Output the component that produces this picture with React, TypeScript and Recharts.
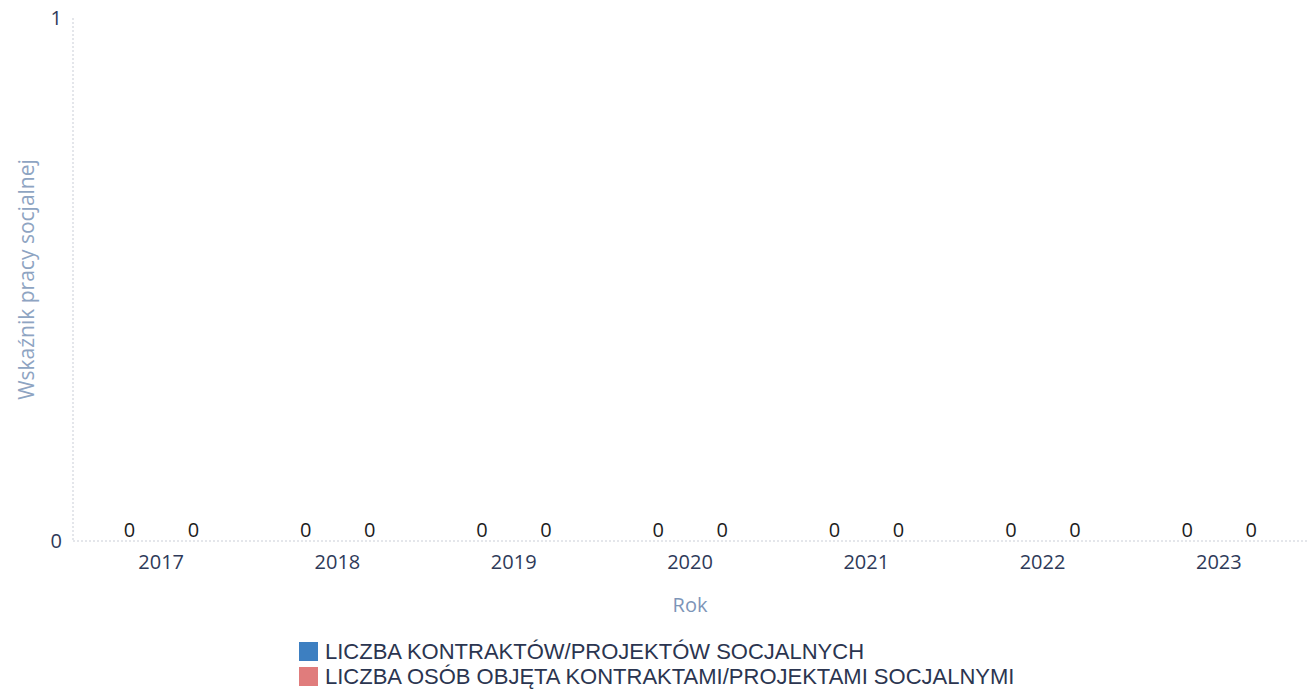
import { BarChart, Bar, XAxis, YAxis, LabelList } from "recharts";

const years = ["2017", "2018", "2019", "2020", "2021", "2022", "2023"];
const kontrakty = [0, 0, 0, 0, 0, 0, 0];
const osoby = [0, 0, 0, 0, 0, 0, 0];
const yTicks = [0, 1];

const seriesNames = [
  "LICZBA KONTRAKTÓW/PROJEKTÓW SOCJALNYCH",
  "LICZBA OSÓB OBJĘTA KONTRAKTAMI/PROJEKTAMI SOCJALNYMI",
];
const seriesColors = ["#3d7fc1", "#e07c7c"];

const data = years.map((rok, i) => ({
  rok,
  kontrakty: kontrakty[i],
  osoby: osoby[i],
}));

const font = "Open Sans, sans-serif";

function YLabel({ viewBox }: any) {
  const cx = 26;
  const cy = viewBox.y + viewBox.height / 2;
  return (
    <text
      x={cx}
      y={cy}
      transform={`rotate(-90 ${cx} ${cy})`}
      textAnchor="middle"
      dominantBaseline="central"
      fill="#8ea4c2"
      fontSize={21}
      fontFamily={font}
    >
      Wskaźnik pracy socjalnej
    </text>
  );
}

export default function App() {
  return (
    <div style={{ position: "absolute", left: 0, top: 0, width: 1307, height: 690, background: "#fff" }}>
      <BarChart
        width={1307}
        height={690}
        data={data}
        margin={{ top: 18, right: 0, left: 0, bottom: 0 }}
        barCategoryGap="15%"
        barGap={4}
      >
        <XAxis
          dataKey="rok"
          height={149}
          tickLine={false}
          axisLine={{ stroke: "#c9cdd6", strokeDasharray: "2 2" }}
          tick={{ fill: "#2e3a59", fontSize: 20, fontFamily: font }}
          tickMargin={8}
          label={{
            value: "Rok",
            position: "insideTop",
            offset: 57,
            fill: "#7d95b8",
            fontSize: 20,
            fontFamily: font,
          }}
        />
        <YAxis
          width={73}
          domain={[0, 1]}
          ticks={yTicks}
          tickLine={false}
          axisLine={{ stroke: "#c9cdd6", strokeDasharray: "2 2" }}
          tick={{ fill: "#2e3a59", fontSize: 20, fontFamily: font }}
          tickMargin={5}
          label={<YLabel />}
        />
        <Bar dataKey="kontrakty" fill={seriesColors[0]} minPointSize={0.01} isAnimationActive={false}>
          <LabelList dataKey="kontrakty" position="top" offset={4} fill="#1c1c1c" fontSize={20} fontFamily={font} />
        </Bar>
        <Bar dataKey="osoby" fill={seriesColors[1]} minPointSize={0.01} isAnimationActive={false}>
          <LabelList dataKey="osoby" position="top" offset={4} fill="#1c1c1c" fontSize={20} fontFamily={font} />
        </Bar>
      </BarChart>
      <div
        style={{
          position: "absolute",
          left: 299,
          top: 639,
          fontFamily: "Liberation Sans, Arial, sans-serif",
          fontSize: 22,
          color: "#2b3550",
          lineHeight: "25px",
        }}
      >
        {seriesNames.map((name, i) => (
          <div key={name} style={{ display: "flex", alignItems: "center", height: 25, whiteSpace: "nowrap" }}>
            <span style={{ width: 19, height: 19, background: seriesColors[i], marginRight: 7, display: "inline-block" }} />
            {name}
          </div>
        ))}
      </div>
    </div>
  );
}
